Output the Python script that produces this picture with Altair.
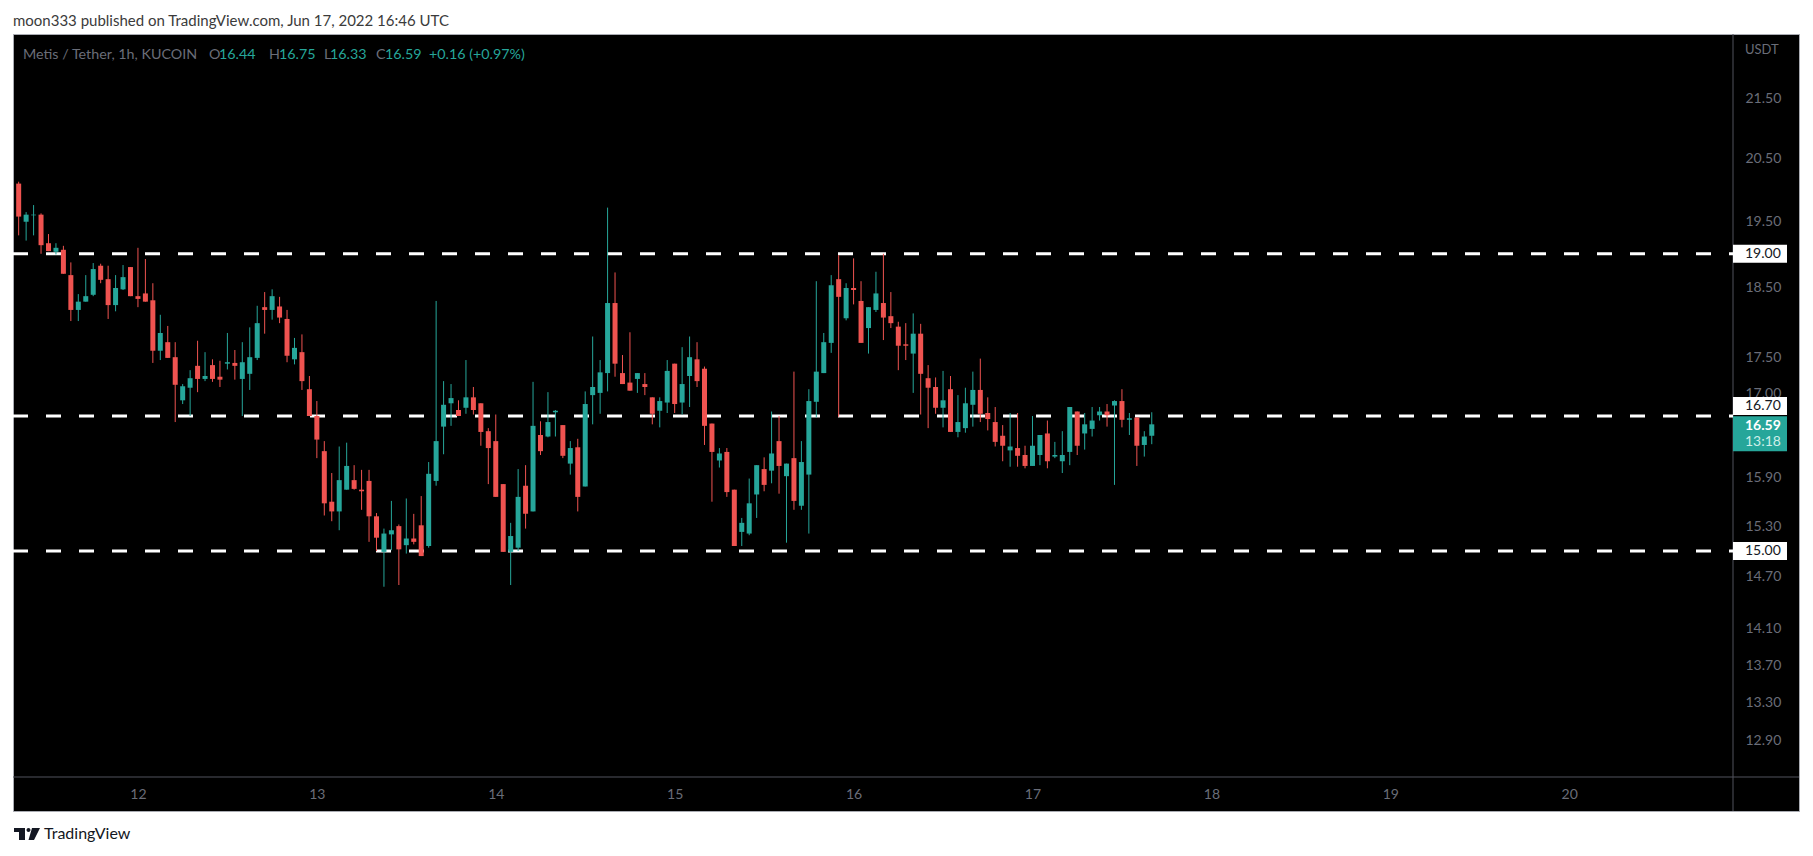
import altair as alt
import pandas as pd

# ---- data (Metis/USDT, 1h, KUCOIN) ----
FIRST_HOUR = 8  # first candle: Jun 11 08:00 UTC (hours counted from Jun 11 00:00)
OPEN = [20.09, 19.49, 19.59, 19.60, 19.16, 19.03, 19.06, 18.68, 18.17, 18.29,
        18.39, 18.82, 18.62, 18.24, 18.47, 18.80, 18.37, 18.41, 18.31, 17.59,
        17.71, 17.50, 16.91, 17.08, 17.38, 17.20, 17.39, 17.23, 17.41, 17.42,
        17.20, 17.27, 17.49, 18.21, 18.17, 18.22, 18.04, 17.47, 17.57, 17.06,
        16.70, 16.24, 15.60, 15.48, 15.75, 15.87, 15.75, 15.86, 15.42, 14.99,
        15.20, 15.30, 15.07, 15.15, 15.31, 15.06, 15.86, 16.56, 16.87, 16.78,
        16.81, 16.95, 16.87, 16.50, 16.37, 15.82, 14.99, 15.04, 15.80, 15.48,
        16.45, 16.43, 16.75, 16.58, 16.08, 16.29, 15.79, 16.98, 17.01, 17.28,
        18.27, 17.28, 17.15, 17.20, 17.13, 16.95, 16.77, 16.88, 17.41, 16.88,
        17.24, 17.47, 17.34, 16.60, 16.12, 16.23, 15.75, 15.23, 15.21, 15.69,
        16.01, 15.99, 16.37, 15.92, 16.15, 15.55, 15.94, 16.89, 17.28, 17.70,
        18.62, 18.05, 18.49, 18.30, 17.91, 18.17, 18.27, 18.08, 17.93, 17.68,
        17.55, 17.83, 17.21, 17.09, 16.81, 17.06, 16.49, 16.54, 16.85, 17.05,
        16.74, 16.62, 16.44, 16.25, 16.28, 16.19, 16.05, 16.19, 16.47, 16.17,
        16.11, 16.23, 16.76, 16.47, 16.53, 16.71, 16.76, 16.84, 16.90, 16.65,
        16.68, 16.32, 16.44]
HIGH = [20.12, 19.64, 19.75, 19.62, 19.30, 19.16, 19.12, 18.87, 18.40, 18.68,
        18.86, 18.85, 18.82, 18.68, 18.83, 18.80, 19.09, 18.92, 18.56, 18.10,
        17.94, 17.71, 17.13, 17.32, 17.73, 17.57, 17.47, 17.45, 17.84, 17.60,
        17.71, 17.92, 18.23, 18.43, 18.47, 18.36, 18.17, 17.77, 17.82, 17.24,
        16.90, 16.37, 15.96, 16.30, 16.35, 16.06, 16.00, 16.00, 15.46, 15.27,
        15.61, 15.32, 15.64, 15.45, 15.67, 16.10, 18.30, 17.17, 17.13, 16.91,
        17.46, 17.09, 16.87, 16.54, 16.72, 15.82, 15.34, 16.01, 16.06, 17.16,
        16.63, 17.02, 16.78, 16.58, 16.37, 16.40, 17.03, 17.79, 17.46, 19.71,
        18.72, 17.53, 17.85, 17.28, 17.28, 16.95, 16.95, 17.46, 17.41, 17.64,
        17.79, 17.71, 17.37, 16.60, 16.28, 16.28, 15.75, 15.40, 15.89, 16.06,
        16.16, 16.76, 16.70, 16.08, 17.30, 16.37, 17.06, 18.59, 17.84, 18.68,
        18.98, 18.56, 18.93, 18.59, 18.21, 18.73, 19.00, 18.43, 18.00, 17.98,
        18.12, 17.97, 17.39, 17.22, 17.31, 17.24, 16.98, 17.08, 17.30, 17.48,
        16.95, 16.82, 16.58, 16.74, 16.74, 16.31, 16.70, 16.45, 16.64, 16.36,
        16.50, 16.82, 16.76, 16.74, 16.82, 16.82, 16.86, 16.91, 17.06, 16.74,
        16.68, 16.50, 16.75]
LOW = [19.28, 19.20, 19.28, 19.00, 19.04, 18.99, 18.70, 18.01, 18.01, 18.29,
       18.37, 18.56, 18.04, 18.15, 18.46, 18.37, 18.21, 18.29, 17.42, 17.46,
       17.49, 16.62, 16.86, 16.70, 17.02, 17.17, 17.16, 17.09, 17.33, 17.19,
       16.70, 17.05, 17.46, 17.83, 18.03, 17.98, 17.43, 17.40, 17.05, 16.70,
       16.15, 15.43, 15.36, 15.25, 15.75, 15.75, 15.50, 15.11, 15.00, 14.58,
       15.01, 14.60, 14.97, 15.08, 14.94, 15.04, 15.80, 16.20, 16.57, 16.70,
       16.73, 16.72, 16.31, 15.82, 15.66, 14.99, 14.60, 15.00, 15.27, 15.48,
       16.19, 16.42, 16.43, 16.15, 15.94, 15.48, 15.79, 16.59, 16.73, 17.03,
       17.23, 17.13, 17.04, 17.01, 16.98, 16.59, 16.55, 16.74, 16.74, 16.72,
       16.82, 17.09, 16.32, 15.60, 16.03, 15.66, 15.06, 15.06, 15.19, 15.40,
       15.73, 15.83, 15.70, 15.10, 15.50, 15.50, 15.21, 16.68, 17.28, 17.56,
       16.69, 18.02, 18.25, 17.70, 17.55, 18.14, 17.74, 17.91, 17.32, 17.46,
       17.01, 16.72, 16.54, 16.73, 16.55, 16.49, 16.42, 16.48, 16.56, 16.62,
       16.51, 16.30, 16.11, 16.04, 16.04, 16.02, 16.05, 16.06, 16.02, 16.15,
       15.96, 16.06, 16.19, 16.26, 16.43, 16.64, 16.56, 15.81, 16.55, 16.45,
       16.05, 16.17, 16.33]
CLOSE = [19.57, 19.60, 19.60, 19.13, 19.04, 19.09, 18.70, 18.17, 18.29, 18.37,
         18.77, 18.61, 18.24, 18.49, 18.65, 18.37, 18.33, 18.29, 17.59, 17.84,
         17.49, 17.12, 17.10, 17.21, 17.20, 17.24, 17.20, 17.19, 17.43, 17.38,
         17.43, 17.50, 17.98, 18.17, 18.37, 18.06, 17.52, 17.63, 17.17, 16.70,
         16.39, 15.58, 15.48, 15.87, 16.05, 15.76, 15.73, 15.42, 15.16, 15.21,
         15.25, 15.02, 15.15, 15.11, 14.94, 15.95, 16.37, 16.85, 16.94, 16.70,
         16.95, 16.78, 16.49, 16.28, 15.66, 14.99, 15.18, 15.66, 15.45, 16.57,
         16.24, 16.62, 16.77, 16.18, 16.28, 15.66, 16.86, 17.09, 17.29, 18.27,
         17.41, 17.13, 17.04, 17.28, 17.09, 16.73, 16.90, 17.31, 16.86, 17.13,
         17.50, 17.17, 16.57, 16.23, 16.21, 15.72, 15.06, 15.34, 15.58, 16.06,
         15.81, 16.21, 16.05, 16.08, 15.61, 16.10, 16.90, 17.30, 17.71, 18.53,
         18.36, 18.49, 18.46, 17.70, 18.21, 18.41, 18.06, 17.98, 17.66, 17.66,
         17.83, 17.27, 17.08, 16.81, 16.91, 16.49, 16.62, 16.87, 17.05, 16.73,
         16.66, 16.36, 16.31, 16.30, 16.18, 16.05, 16.31, 16.45, 16.11, 16.19,
         16.19, 16.82, 16.31, 16.59, 16.64, 16.76, 16.71, 16.90, 16.65, 16.67,
         16.31, 16.43, 16.59]
LEVELS = [19.00, 16.70, 15.00]
Y_TICKS = [12.90, 13.30, 13.70, 14.10, 14.70, 15.30, 15.90, 17.00, 17.50,
           18.50, 19.50, 20.50, 21.50]
DAY_LABELS = [12, 13, 14, 15, 16, 17, 18, 19, 20]
COUNTDOWN = "13:18"
PUBLISHED = "moon333 published on TradingView.com, Jun 17, 2022 16:46 UTC"
SYMBOL = "Metis / Tether, 1h, KUCOIN"

# ---- layout / style ----
W, H = 1786, 777          # whole black TradingView box
PANE_W, PANE_H = 1720, 743
FONT = "Lato"
GREEN, RED = "#26a69a", "#ef5350"
GREY = "#6a6d78"
DIV = "#50535c"

df = pd.DataFrame({
    "h": [FIRST_HOUR + i for i in range(len(OPEN))],
    "open": OPEN, "high": HIGH, "low": LOW, "close": CLOSE,
})
df["dir"] = ["up" if c >= o else "down" for o, c in zip(OPEN, CLOSE)]
lv = pd.DataFrame({"level": LEVELS})
one = pd.DataFrame({"k": [0]})

X_SCALE = alt.Scale(domain=[7.91, 237.3], range=[0, PANE_W], nice=False, zero=False)
Y_SCALE = alt.Scale(type="log", domain=[12.533, 22.628], range=[PANE_H, 0], nice=False)
X_AXIS = alt.Axis(orient="bottom", offset=-(H - PANE_H), values=[(d - 11) * 24 for d in DAY_LABELS],
                  labelExpr="'' + (datum.value / 24 + 11)", ticks=False, tickSize=0, domain=False,
                  grid=False, labelPadding=17, labelBaseline="middle", labelFont=FONT,
                  labelFontSize=14, labelColor=GREY, title=None, labelFlush=False, labelOverlap=False)
Y_AXIS = alt.Axis(orient="right", offset=-(W - PANE_W), values=Y_TICKS, format=".2f", ticks=False,
                  tickSize=0, domain=False, grid=False, labelPadding=12, labelAlign="left",
                  labelBaseline="middle", labelFont=FONT, labelFontSize=14, labelColor=GREY,
                  title=None, labelFlush=False, labelOverlap=False)
COLOR = alt.Color("dir:N", scale=alt.Scale(domain=["up", "down"], range=[GREEN, RED]), legend=None)

vdiv = alt.Chart(one).mark_rule(color=DIV, strokeWidth=1).encode(
    x=alt.value(PANE_W), y=alt.value(0), y2=alt.value(H))
hdiv = alt.Chart(one).mark_rule(color=DIV, strokeWidth=1).encode(
    y=alt.value(PANE_H), x=alt.value(0), x2=alt.value(W))

dashes = alt.Chart(lv).mark_rule(color="white", strokeWidth=3, strokeDash=[15, 18]).encode(
    y=alt.Y("level:Q", scale=Y_SCALE, axis=Y_AXIS), x=alt.value(0), x2=alt.value(PANE_W))

wicks = alt.Chart(df).mark_rule(strokeWidth=1).encode(
    x=alt.X("h:Q", scale=X_SCALE, axis=X_AXIS),
    y=alt.Y("low:Q", scale=Y_SCALE, axis=Y_AXIS),
    y2="high:Q", color=COLOR)
bodies = alt.Chart(df).mark_bar(size=5).encode(
    x=alt.X("h:Q", scale=X_SCALE, axis=X_AXIS),
    y=alt.Y("open:Q", scale=Y_SCALE, axis=Y_AXIS),
    y2="close:Q", color=COLOR)

BOX = "M0,-9L54,-9L54,9L0,9Z"
BOX_UP = "M0,-19L54,-19L54,-1L0,-1Z"
BOX_LAST = "M0,-8L54,-8L54,27L0,27Z"

box_a = alt.Chart(lv).transform_filter("datum.level != 16.7").mark_point(
    shape=BOX, size=4, filled=True, fill="white", strokeWidth=0, opacity=1).encode(
    x=alt.value(PANE_W), y=alt.Y("level:Q", scale=Y_SCALE, axis=Y_AXIS))
box_b = alt.Chart(lv).transform_filter("datum.level == 16.7").mark_point(
    shape=BOX_UP, size=4, filled=True, fill="white", strokeWidth=0, opacity=1).encode(
    x=alt.value(PANE_W), y=alt.Y("level:Q", scale=Y_SCALE, axis=Y_AXIS))
txt_a = alt.Chart(lv).transform_filter("datum.level != 16.7").mark_text(
    align="left", baseline="middle", dx=12, font=FONT, fontSize=14, color="#131722").encode(
    x=alt.value(PANE_W), y=alt.Y("level:Q", scale=Y_SCALE, axis=Y_AXIS),
    text=alt.Text("level:Q", format=".2f"))
txt_b = alt.Chart(lv).transform_filter("datum.level == 16.7").mark_text(
    align="left", baseline="middle", dx=12, dy=-10, font=FONT, fontSize=14, color="#131722").encode(
    x=alt.value(PANE_W), y=alt.Y("level:Q", scale=Y_SCALE, axis=Y_AXIS),
    text=alt.Text("level:Q", format=".2f"))

last = df.tail(1)
box_last = alt.Chart(last).mark_point(
    shape=BOX_LAST, size=4, filled=True, fill=GREEN, strokeWidth=0, opacity=1).encode(
    x=alt.value(PANE_W), y=alt.Y("close:Q", scale=Y_SCALE, axis=Y_AXIS))
txt_last = alt.Chart(last).mark_text(
    align="left", baseline="middle", dx=12, dy=2, font=FONT, fontSize=14, fontWeight="bold",
    color="white").encode(
    x=alt.value(PANE_W), y=alt.Y("close:Q", scale=Y_SCALE, axis=Y_AXIS),
    text=alt.Text("close:Q", format=".2f"))
txt_cd = alt.Chart(last).mark_text(
    align="left", baseline="middle", dx=12, dy=18, font=FONT, fontSize=14, color="#cdeee9",
    text=COUNTDOWN).encode(
    x=alt.value(PANE_W), y=alt.Y("close:Q", scale=Y_SCALE, axis=Y_AXIS))

chg = CLOSE[-1] - CLOSE[-2]
pct = chg / CLOSE[-2] * 100
HEADER = [
    (SYMBOL, 10, GREY),
    ("O", 196, GREY), (f"{OPEN[-1]:.2f}", 206, GREEN),
    ("H", 256, GREY), (f"{HIGH[-1]:.2f}", 266, GREEN),
    ("L", 311, GREY), (f"{LOW[-1]:.2f}", 317, GREEN),
    ("C", 363, GREY), (f"{CLOSE[-1]:.2f}", 372, GREEN),
    (f"{chg:+.2f} ({pct:+.2f}%)", 416, GREEN),
]
header = [alt.Chart(one).mark_text(text=t, align="left", baseline="middle", font=FONT,
                                   fontSize=14.3, color=c).encode(x=alt.value(x), y=alt.value(21))
          for t, x, c in HEADER]

top = alt.Chart(one).mark_text(text=PUBLISHED, align="left", baseline="middle", font=FONT,
                               fontSize=15, color="#3b3b3b").encode(x=alt.value(0), y=alt.value(-13))
usdt = alt.Chart(one).mark_text(text="USDT", align="left", baseline="middle", font=FONT,
                                fontSize=13, color=GREY).encode(x=alt.value(PANE_W + 12), y=alt.value(16))
LOGO = "M0,-6L11,-6L11,6L5,6L5,-2L0,-2Z M12.5,-4a2,2 0 1,0 4,0a2,2 0 1,0 -4,0 M18,-6L26,-6L20,6L14.5,6Z"
logo = alt.Chart(one).mark_point(shape=LOGO, size=4, filled=True, fill="#131722", strokeWidth=0,
                                 opacity=1).encode(x=alt.value(1), y=alt.value(800))
tv = alt.Chart(one).mark_text(text="TradingView", align="left", baseline="middle", font=FONT,
                              fontSize=16, color="#131722").encode(x=alt.value(31), y=alt.value(800))

chart = alt.layer(
    vdiv, hdiv, dashes, wicks, bodies, box_a, box_b, txt_a, txt_b, box_last, txt_last, txt_cd,
    *header, top, usdt, logo, tv
).properties(
    width=W, height=H, background="white",
    padding={"left": 5, "top": 26, "right": 2, "bottom": 34},
    autosize=alt.AutoSizeParams(type="none"),
).configure_view(fill="#000000", stroke="#a9abb2", strokeWidth=1)

chart.save("out.html", embed_options={"renderer": "svg", "actions": False})
